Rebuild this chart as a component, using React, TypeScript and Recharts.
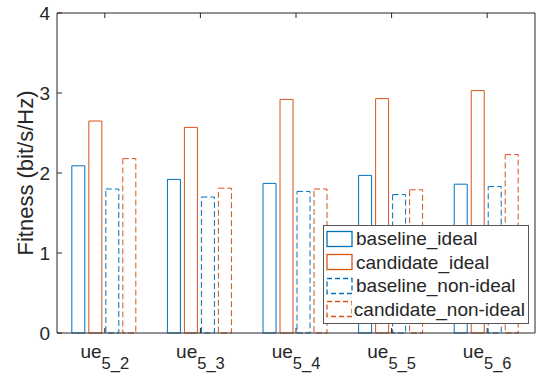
import { Bar, BarChart, Legend, XAxis, YAxis } from "recharts";

const subscripts = ["5_2", "5_3", "5_4", "5_5", "5_6"];
const baselineIdeal = [2.09, 1.92, 1.87, 1.97, 1.86];
const candidateIdeal = [2.65, 2.57, 2.92, 2.93, 3.03];
const baselineNonIdeal = [1.8, 1.7, 1.77, 1.73, 1.83];
const candidateNonIdeal = [2.18, 1.81, 1.8, 1.79, 2.23];
const yTicks = [0, 1, 2, 3, 4];

const BLUE = "#0072BD";
const ORANGE = "#D95319";
const AXIS = "#262626";
const FONT = "'Liberation Sans', Arial, Helvetica, sans-serif";

const data = subscripts.map((s, i) => ({
  cat: s,
  baseline_ideal: baselineIdeal[i],
  candidate_ideal: candidateIdeal[i],
  "baseline_non-ideal": baselineNonIdeal[i],
  "candidate_non-ideal": candidateNonIdeal[i],
}));

const series = [
  { key: "baseline_ideal", color: BLUE, dashed: false },
  { key: "candidate_ideal", color: ORANGE, dashed: false },
  { key: "baseline_non-ideal", color: BLUE, dashed: true },
  { key: "candidate_non-ideal", color: ORANGE, dashed: true },
];

function UeTick({ x, y, payload }: any) {
  return (
    <text x={x} y={y + 30} textAnchor="middle" fontSize={19} fill={AXIS} fontFamily={FONT}>
      <tspan>ue</tspan>
      <tspan fontSize={16.5} dy={11}>
        {payload.value}
      </tspan>
    </text>
  );
}

const Empty = () => <g />;

function LegendBox() {
  return (
    <div
      style={{
        background: "#fff",
        border: "1px solid #555",
        padding: "1px 3px 2px 2px",
        fontFamily: FONT,
        fontSize: 19,
        color: AXIS,
        width: 199,
      }}
    >
      {series.map((s) => (
        <div key={s.key} style={{ display: "flex", alignItems: "center", height: 23.5 }}>
          <svg width={28} height={18} style={{ marginRight: 2 }}>
            <rect
              x={1}
              y={1.5}
              width={25}
              height={15}
              fill="#fff"
              stroke={s.color}
              strokeWidth={1.3}
              strokeDasharray={s.dashed ? "5 3" : undefined}
            />
          </svg>
          <span style={{ lineHeight: "23px", whiteSpace: "nowrap" }}>{s.key}</span>
        </div>
      ))}
    </div>
  );
}

export default function App() {
  return (
    <div style={{ position: "absolute", left: 0, top: 0, width: 540, height: 375, background: "#fff" }}>
      <BarChart
        width={540}
        height={375}
        data={data}
        margin={{ top: 0, right: 0, bottom: 0, left: 0 }}
        barCategoryGap="15.5%"
        barGap={4}
      >
        <XAxis
          dataKey="cat"
          height={42}
          stroke={AXIS}
          tickSize={-5}
          tickMargin={0}
          tick={<UeTick />}
        />
        <XAxis xAxisId="top" dataKey="cat" orientation="top" height={13} stroke={AXIS} tickSize={-5} tick={Empty} />
        <YAxis
          domain={[0, 4]}
          ticks={yTicks}
          width={57}
          stroke={AXIS}
          tickSize={-5}
          tickMargin={12}
          tick={{ fill: AXIS, fontSize: 19, fontFamily: FONT }}
          label={{
            value: "Fitness (bit/s/Hz)",
            angle: -90,
            position: "insideLeft",
            offset: 25,
            style: { textAnchor: "middle", fill: AXIS, fontSize: 22, fontFamily: FONT },
          }}
        />
        <YAxis
          yAxisId="right"
          orientation="right"
          domain={[0, 4]}
          ticks={yTicks}
          width={5}
          stroke={AXIS}
          tickSize={-5}
          tick={Empty}
        />
        {series.map((s) => (
          <Bar
            key={s.key}
            dataKey={s.key}
            fill="#fff"
            stroke={s.color}
            strokeWidth={1}
            strokeDasharray={s.dashed ? "6 3" : undefined}
            isAnimationActive={false}
          />
        ))}
        <Legend
          layout="vertical"
          align="center"
          verticalAlign="middle"
          content={<LegendBox />}
          wrapperStyle={{ left: 323, top: 225, width: "auto" }}
        />
      </BarChart>
    </div>
  );
}
